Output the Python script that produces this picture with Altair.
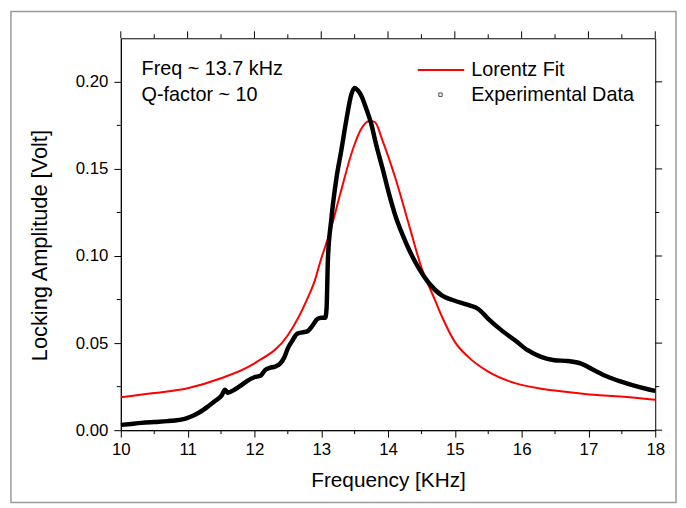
import altair as alt
import pandas as pd

# ---------------- data ----------------
freq_exp = [10.00, 10.15, 10.31, 10.50, 10.70, 10.81, 10.92, 11.00, 11.08, 11.16,
            11.24, 11.31, 11.40, 11.51, 11.56, 11.60, 11.70, 11.81, 11.90, 12.00,
            12.09, 12.16, 12.23, 12.31, 12.39, 12.45, 12.50, 12.57, 12.64, 12.72,
            12.79, 12.87, 12.94, 13.00, 13.06, 13.08, 13.10, 13.15, 13.23, 13.30,
            13.38, 13.45, 13.50, 13.55, 13.60, 13.67, 13.75, 13.82, 13.92, 14.02,
            14.12, 14.22, 14.31, 14.46, 14.61, 14.81, 15.00, 15.20, 15.35,
            15.50, 15.70, 15.90, 16.09, 16.29, 16.49, 16.69, 16.88, 17.08, 17.28,
            17.48, 17.67, 17.92, 18.00]
amp_exp = [0.0030, 0.0036, 0.0042, 0.0047, 0.0052, 0.0056, 0.0062, 0.0071, 0.0083, 0.0099,
           0.0118, 0.0138, 0.0165, 0.0200, 0.0232, 0.0215, 0.0232, 0.0260, 0.0285, 0.0304,
           0.0312, 0.0345, 0.0358, 0.0365, 0.0384, 0.0420, 0.0470, 0.0515, 0.0554, 0.0562,
           0.0567, 0.0600, 0.0638, 0.0645, 0.0645, 0.0700, 0.0980, 0.1207, 0.1453, 0.1605,
           0.1790, 0.1927, 0.1965, 0.1950, 0.1920, 0.1850, 0.1757, 0.1643, 0.1500, 0.1350,
           0.1220, 0.1120, 0.1040, 0.0930, 0.0845, 0.0772, 0.0743, 0.0719, 0.0696,
           0.0639, 0.0573, 0.0516, 0.0459, 0.0421, 0.0402, 0.0397, 0.0384, 0.0345, 0.0308,
           0.0280, 0.0257, 0.0232, 0.0225]

freq_fit = [10.0, 10.5, 11.0, 11.5, 12.0, 12.5, 12.79, 12.91, 12.98, 13.14,
            13.28, 13.48, 13.60, 13.72, 13.80, 13.92, 14.12, 14.32, 14.51, 14.61,
            14.70, 14.81, 15.0, 15.2, 15.5, 15.9, 16.29, 16.69, 17.08, 17.48, 18.0]
amp_fit = [0.0189, 0.0213, 0.0241, 0.0298, 0.0384, 0.0545, 0.0753, 0.0866, 0.0960, 0.1150,
           0.1350, 0.1620, 0.1730, 0.1775, 0.1770, 0.1660, 0.1435, 0.1170, 0.0923, 0.0829,
           0.0750, 0.0650, 0.0507, 0.0421, 0.0336, 0.0270, 0.0238, 0.0219, 0.0203, 0.0194, 0.0175]

x_major = [10, 11, 12, 13, 14, 15, 16, 17, 18]
x_minor = [10.5, 11.5, 12.5, 13.5, 14.5, 15.5, 16.5, 17.5]
y_major = [0.0, 0.05, 0.10, 0.15, 0.20]
y_minor = [0.025, 0.075, 0.125, 0.175]

legend_labels = ["Lorentz Fit", "Experimental Data"]
note_labels = ["Freq ~ 13.7 kHz", "Q-factor ~ 10"]

# ---------------- chart ----------------
FONT = "Liberation Sans"
W, H = 540, 396
xs = alt.Scale(domain=[10, 18], nice=False, zero=False)
ys = alt.Scale(domain=[0, 0.225], nice=False, zero=False)

exp_df = pd.DataFrame({"f": freq_exp, "a": amp_exp})
fit_df = pd.DataFrame({"f": freq_fit, "a": amp_fit})

x_axis = alt.Axis(values=x_major, format="d", tickSize=7, tickColor="black",
                  domainColor="black", labelFont=FONT, labelFontSize=17,
                  labelColor="black", labelPadding=5, labelFlush=False,
                  title="Frequency [KHz]",
                  titleFont=FONT, titleFontSize=21, titleFontWeight="normal",
                  titleColor="black", titlePadding=12, grid=False)
y_axis = alt.Axis(values=y_major, format=".2f", tickSize=7, tickColor="black",
                  domainColor="black", labelFont=FONT, labelFontSize=17,
                  labelColor="black", labelPadding=6, labelFlush=False,
                  title="Locking Amplitude [Volt]",
                  titleFont=FONT, titleFontSize=22, titleFontWeight="normal",
                  titleColor="black", titlePadding=24, titleY=209, grid=False)

fit = alt.Chart(fit_df).mark_line(color="#ff0000", strokeWidth=2, interpolate="monotone").encode(
    x=alt.X("f:Q", scale=xs, axis=x_axis),
    y=alt.Y("a:Q", scale=ys, axis=y_axis),
)
exp = alt.Chart(exp_df).mark_line(color="black", strokeWidth=4.5, interpolate="monotone").encode(
    x=alt.X("f:Q", scale=xs),
    y=alt.Y("a:Q", scale=ys),
)

xmaj_df = pd.DataFrame({"v": x_major})
xmin_df = pd.DataFrame({"v": x_minor})
ymaj_df = pd.DataFrame({"v": y_major})
ymin_df = pd.DataFrame({"v": y_minor})

tick = dict(color="black", strokeWidth=1)
top_major = alt.Chart(xmaj_df).mark_rule(**tick).encode(
    x=alt.X("v:Q", scale=xs), y=alt.value(0), y2=alt.value(-7))
top_minor = alt.Chart(xmin_df).mark_rule(**tick).encode(
    x=alt.X("v:Q", scale=xs), y=alt.value(0), y2=alt.value(-4))
bot_minor = alt.Chart(xmin_df).mark_rule(**tick).encode(
    x=alt.X("v:Q", scale=xs), y=alt.value(H), y2=alt.value(H + 4))
right_major = alt.Chart(ymaj_df).mark_rule(**tick).encode(
    y=alt.Y("v:Q", scale=ys), x=alt.value(W), x2=alt.value(W + 7))
right_minor = alt.Chart(ymin_df).mark_rule(**tick).encode(
    y=alt.Y("v:Q", scale=ys), x=alt.value(W), x2=alt.value(W + 4))
left_minor = alt.Chart(ymin_df).mark_rule(**tick).encode(
    y=alt.Y("v:Q", scale=ys), x=alt.value(0), x2=alt.value(-4))

one = pd.DataFrame({"k": [0]})
leg_line = alt.Chart(one).mark_rule(color="#ff0000", strokeWidth=2).encode(
    x=alt.value(300), x2=alt.value(347), y=alt.value(32))
leg_sq = alt.Chart(one).mark_point(shape="square", size=12, filled=False,
                                   color="black", strokeWidth=1).encode(
    x=alt.value(323), y=alt.value(57))

txt = dict(font=FONT, fontSize=20, color="black", align="left", baseline="middle")
leg_t1 = alt.Chart(pd.DataFrame({"t": [legend_labels[0]]})).mark_text(**txt).encode(
    x=alt.value(354), y=alt.value(32), text="t:N")
leg_t2 = alt.Chart(pd.DataFrame({"t": [legend_labels[1]]})).mark_text(**txt).encode(
    x=alt.value(354), y=alt.value(57.5), text="t:N")
note1 = alt.Chart(pd.DataFrame({"t": [note_labels[0]]})).mark_text(**txt).encode(
    x=alt.value(21), y=alt.value(31.5), text="t:N")
note2 = alt.Chart(pd.DataFrame({"t": [note_labels[1]]})).mark_text(**txt).encode(
    x=alt.value(21), y=alt.value(57.5), text="t:N")

frame = alt.Chart(one).mark_rect(fillOpacity=0, stroke="#9a9a9a", strokeWidth=1.5).encode(
    x=alt.value(-111), x2=alt.value(561), y=alt.value(-27), y2=alt.value(469))

chart = alt.layer(
    frame, fit, exp, top_major, top_minor, bot_minor, right_major, right_minor, left_minor,
    leg_line, leg_sq, leg_t1, leg_t2, note1, note2,
).properties(
    width=W, height=H,
    padding={"left": 114, "top": 28, "right": 23, "bottom": 74},
    autosize=alt.AutoSizeParams(type="none"),
    background="white",
).configure_view(stroke="black", strokeWidth=1)

chart.save("out.html", embed_options={"renderer": "svg", "actions": False})
